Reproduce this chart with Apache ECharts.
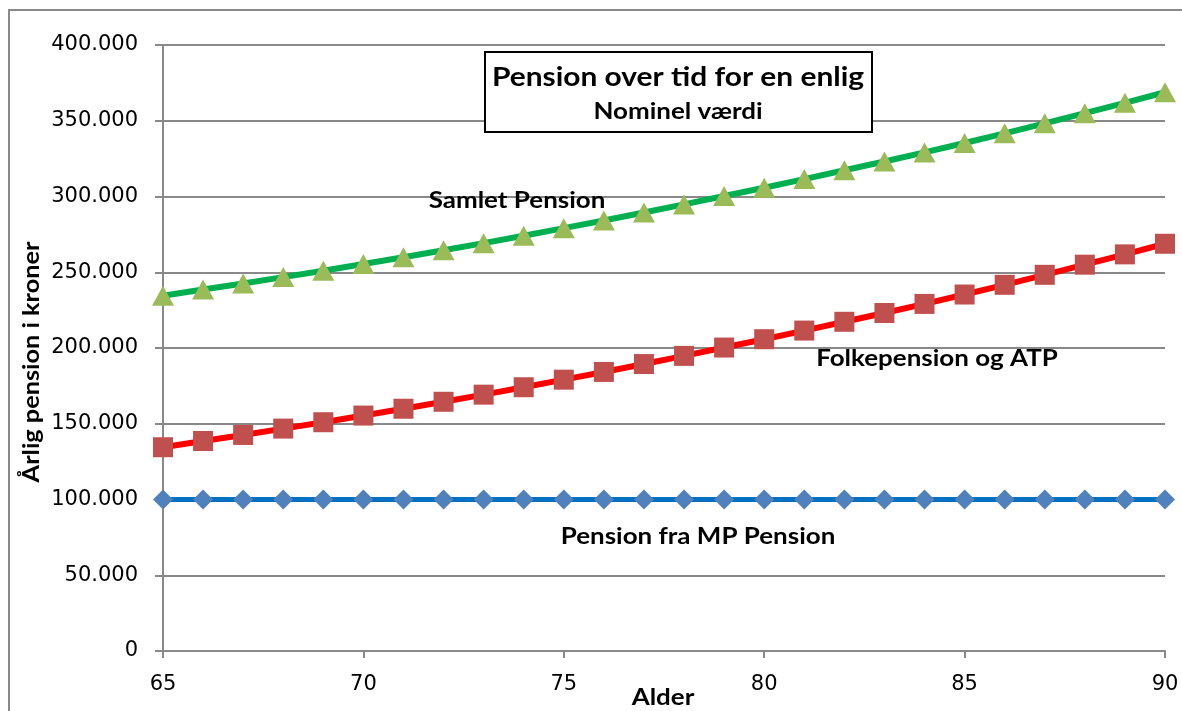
<!DOCTYPE html>
<html>
<head>
<meta charset="utf-8">
<script src="https://cdn.jsdelivr.net/npm/echarts@6/dist/echarts.min.js"></script>
<style>
  html, body { margin: 0; padding: 0; background: #fff; }
  #main { width: 1182px; height: 711px; }
</style>
</head>
<body>
<div id="main"></div>
<script>
// alder (x)
const ages = [65, 66, 67, 68, 69, 70, 71, 72, 73, 74, 75, 76, 77, 78, 79, 80, 81, 82, 83, 84, 85, 86, 87, 88, 89, 90];
// Pension fra MP Pension
const mpPension = [100000, 100000, 100000, 100000, 100000, 100000, 100000, 100000, 100000, 100000, 100000, 100000, 100000,
  100000, 100000, 100000, 100000, 100000, 100000, 100000, 100000, 100000, 100000, 100000, 100000, 100000];
// Folkepension og ATP
const folkepension = [134500, 138600, 142600, 146800, 151000, 155400, 159900, 164500, 169200, 174100, 179100, 184200, 189400,
  194800, 200300, 205800, 211500, 217300, 223100, 229100, 235300, 241700, 248300, 255000, 261800, 268800];
// Samlet Pension
const samlet = [234500, 238600, 242600, 246800, 251000, 255400, 259900, 264500, 269200, 274100, 279100, 284200, 289400,
  294800, 300300, 305800, 311500, 317300, 323100, 329100, 335300, 341700, 348300, 355000, 361800, 368800];

const pairs = vals => ages.map((a, i) => [a, vals[i]]);
const fmt = v => String(v).replace(/\B(?=(\d{3})+(?!\d))/g, '.');

const gray = '#898989';

// fed tekst, lidt strakt i bredden som i Excel-grafen
function label(text, x, y, size, sx, rot) {
  return {
    type: 'text', x: x, y: y, scaleX: sx || 1.18, rotation: rot || 0, z: 11,
    style: { text: text, font: 'bold ' + size + 'px Lato', fill: '#000', align: 'center', verticalAlign: 'middle' }
  };
}

let myChart = echarts.init(document.getElementById('main'));
let option = {
  animation: false,
  backgroundColor: '#fff',
  grid: { left: 163, top: 45, width: 1002, height: 606, containLabel: false, outerBoundsMode: 'none' },
  xAxis: {
    type: 'value', min: 65, max: 90, interval: 5,
    axisLine: { lineStyle: { color: gray, width: 2 } },
    axisTick: { show: true, inside: false, length: 7, lineStyle: { color: gray, width: 2 } },
    axisLabel: { fontFamily: 'DejaVu Sans', fontSize: 21, color: '#000', margin: 23 },
    splitLine: { show: false }
  },
  yAxis: {
    type: 'value', min: 0, max: 400000, interval: 50000,
    axisLine: { show: true, lineStyle: { color: gray, width: 2 } },
    axisTick: { show: true, inside: false, length: 8, lineStyle: { color: gray, width: 2 } },
    axisLabel: { fontFamily: 'DejaVu Sans', fontSize: 21, color: '#000', margin: 25, formatter: fmt },
    splitLine: { show: true, lineStyle: { color: gray, width: 2 } }
  },
  series: [
    {
      name: 'Pension fra MP Pension', type: 'line', data: pairs(mpPension),
      symbol: 'diamond', symbolSize: [20, 20], showAllSymbol: true,
      lineStyle: { color: '#0070c0', width: 5 },
      itemStyle: { color: '#4f81bd' }, z: 2
    },
    {
      name: 'Folkepension og ATP', type: 'line', data: pairs(folkepension),
      symbol: 'rect', symbolSize: 20, showAllSymbol: true,
      lineStyle: { color: '#ff0000', width: 6 },
      itemStyle: { color: '#c0504d' }, z: 3
    },
    {
      name: 'Samlet Pension', type: 'line', data: pairs(samlet),
      symbol: 'triangle', symbolSize: [22, 20], showAllSymbol: true,
      lineStyle: { color: '#00b050', width: 6 },
      itemStyle: { color: '#9bbb59' }, z: 4
    }
  ],
  graphic: [
    { type: 'rect', shape: { x: 9, y: 10, width: 1200, height: 740 }, style: { fill: 'none', stroke: gray, lineWidth: 2 }, silent: true, z: 0 },
    { type: 'rect', shape: { x: 485, y: 52, width: 387, height: 80 }, style: { fill: '#fff', stroke: '#000', lineWidth: 2 }, z: 10 },
    label('Pension over tid for en enlig', 678, 78, 26, 1.15),
    label('Nominel værdi', 678, 112, 22, 1.18),
    label('Samlet Pension', 517, 201, 22),
    label('Folkepension og ATP', 937, 359, 22),
    label('Pension fra MP Pension', 698, 537, 22),
    label('Alder', 663, 698, 22),
    label('Årlig pension i kroner', 32, 362, 22, 1.15, Math.PI / 2)
  ]
};
myChart.setOption(option);
</script>
</body>
</html>
